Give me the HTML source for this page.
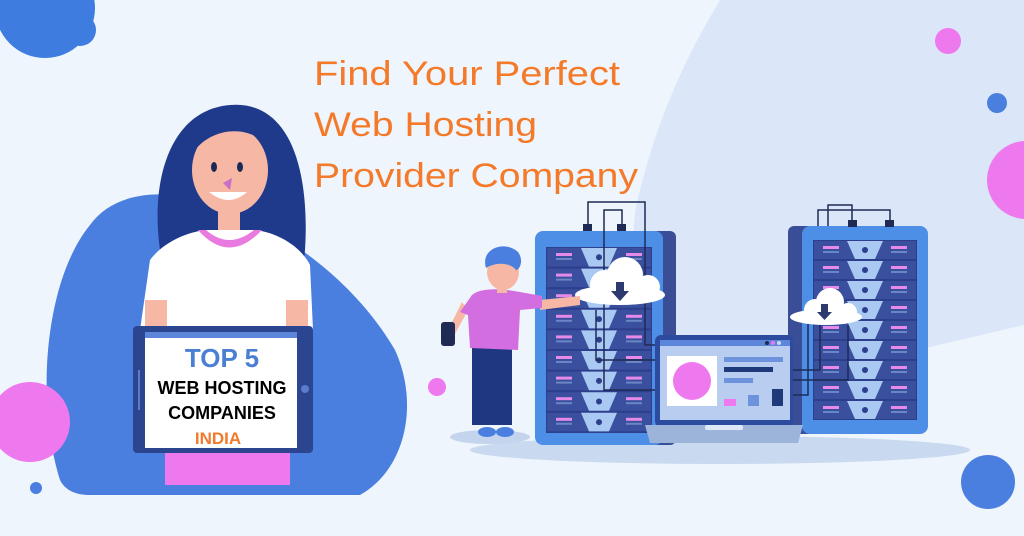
<!DOCTYPE html>
<html><head><meta charset="utf-8"><style>
html,body{margin:0;padding:0;background:#eef5fd;}
svg{display:block}
text{font-family:"Liberation Sans",Arial,sans-serif}
</style></head><body>
<svg id="s" width="1024" height="536" viewBox="0 0 1024 536" xmlns="http://www.w3.org/2000/svg">
<rect width="1024" height="536" fill="#eef5fd"/>
<path d="M720 0 L1024 0 L1024 325 C960 340 900 355 840 365 L700 375 C650 330 620 260 640 190 C660 110 690 50 720 0 Z" fill="#dbe7f8"/>
<circle cx="45" cy="8" r="50" fill="#3f7ce0"/>
<circle cx="80" cy="30" r="16" fill="#3f7ce0"/>
<circle cx="948" cy="41" r="13" fill="#ee78ee"/>
<circle cx="997" cy="103" r="10" fill="#4a7fdf"/>
<circle cx="1026" cy="180" r="39" fill="#ee78ee"/>
<circle cx="988" cy="482" r="27" fill="#4a7fdf"/>
<circle cx="437" cy="387" r="9" fill="#ee78ee"/>
<circle cx="36" cy="488" r="6" fill="#4a7fdf"/>
<path d="M60 480 C35 400 45 280 90 225 C115 190 170 185 230 210 C300 240 360 290 395 350 C420 405 405 470 360 495 L90 495 C75 495 65 490 60 480 Z" fill="#4a7fdf"/>
<circle cx="30" cy="422" r="40" fill="#ee78ee"/>
<ellipse cx="720" cy="450" rx="250" ry="14" fill="#c9d9ef"/>
<ellipse cx="490" cy="437" rx="40" ry="7" fill="#c3d4ec"/>
<text x="314" y="85" font-size="34" fill="#f47a2a" textLength="306" lengthAdjust="spacingAndGlyphs">Find Your Perfect</text>
<text x="314" y="136" font-size="34" fill="#f47a2a" textLength="223" lengthAdjust="spacingAndGlyphs">Web Hosting</text>
<text x="314" y="187" font-size="34" fill="#f47a2a" textLength="324" lengthAdjust="spacingAndGlyphs">Provider Company</text>

<path d="M160 250 C150 180 170 110 230 105 C290 100 310 170 305 250 L300 300 L160 300 Z" fill="#1f3a8a"/>
<ellipse cx="230" cy="170" rx="38" ry="44" fill="#f6b8a4"/>
<path d="M185 140 C200 105 260 105 278 150 L270 150 C255 125 215 125 195 150 Z" fill="#1f3a8a"/>
<rect x="218" y="205" width="22" height="30" fill="#f6b8a4"/>
<ellipse cx="214" cy="167" rx="3" ry="5" fill="#1a2a55"/>
<ellipse cx="240" cy="167" rx="3" ry="5" fill="#1a2a55"/>
<path d="M223 183 L232 178 L230 190 Z" fill="#c86fc8"/>
<path d="M209 192 Q229 208 247 192 Z" fill="#fff"/>
<path d="M150 260 C165 240 190 232 205 230 L255 230 C275 232 300 245 310 265 L313 330 L140 330 Z" fill="#fff"/>
<path d="M198 230 Q229 265 262 230 L254 230 Q229 250 206 230 Z" fill="#e87ae0"/>
<rect x="145" y="300" width="22" height="30" fill="#f6b8a4"/>
<rect x="286" y="300" width="22" height="30" fill="#f6b8a4"/>
<rect x="165" y="445" width="125" height="40" fill="#ee78ee"/>
<rect x="133" y="326" width="180" height="127" rx="4" fill="#2b4591"/>
<rect x="145" y="332" width="152" height="6" fill="#5b86d9"/>
<rect x="145" y="338" width="152" height="110" fill="#fff"/>
<rect x="138" y="370" width="2" height="40" fill="#5b7cc8"/>
<circle cx="305" cy="389" r="4" fill="#5b7cc8"/>
<text x="222" y="367" font-size="26" font-weight="bold" fill="#4a7fd4" text-anchor="middle">TOP 5</text>
<text x="222" y="394" font-size="18" font-weight="bold" fill="#000" text-anchor="middle">WEB HOSTING</text>
<text x="222" y="419" font-size="18" font-weight="bold" fill="#000" text-anchor="middle">COMPANIES</text>
<text x="218" y="444" font-size="17" font-weight="bold" fill="#f47a2a" text-anchor="middle">INDIA</text>

<rect x="650" y="231" width="26" height="214" rx="6" fill="#3a4e98"/>
<rect x="535" y="231" width="128" height="214" rx="8" fill="#4d8fe6"/>
<rect x="546" y="247" width="106" height="186" fill="#2c3e8c"/>
<rect x="788" y="226" width="26" height="208" rx="6" fill="#3a4e98"/>
<rect x="802" y="226" width="126" height="208" rx="8" fill="#4d8fe6"/>
<rect x="813" y="240" width="104" height="180" fill="#2c3e8c"/>
<g id="rows"></g>
<g stroke="#1f2a55" stroke-width="1.5" fill="none">
<path d="M588 226 V202 H645 V345 H655"/>
<path d="M622 226 V210 H604 V390 H655"/>
<path d="M596 310 V360 H655"/>
<path d="M818 226 V210 H890 V226"/>
<path d="M828 226 V205 H852 V226"/>
<path d="M820 310 V370 H793"/>
<path d="M848 325 V380 H793"/>
<path d="M808 320 V395 H793"/>
</g>
<rect x="583" y="224" width="9" height="7" fill="#1f2a55"/>
<rect x="617" y="224" width="9" height="7" fill="#1f2a55"/>
<rect x="848" y="220" width="9" height="7" fill="#1f2a55"/>
<rect x="885" y="220" width="9" height="7" fill="#1f2a55"/>
<g fill="#fff">
<ellipse cx="620" cy="295" rx="45" ry="10"/>
<circle cx="605" cy="285" r="15"/><circle cx="625" cy="275" r="18"/><circle cx="648" cy="287" r="12"/>
<ellipse cx="826" cy="317" rx="36" ry="8"/>
<circle cx="815" cy="310" r="11"/><circle cx="830" cy="302" r="14"/><circle cx="848" cy="312" r="9"/>
</g>
<path d="M616 282 h8 v9 h5 l-9 10 l-9 -10 h5 z" fill="#2c3a70"/>
<path d="M821 304 h7 v8 h4 l-7.5 8 l-7.5 -8 h4 z" fill="#2c3a70"/>
<rect x="655" y="335" width="138" height="92" rx="6" fill="#2d4b9e"/>
<rect x="660" y="340" width="130" height="6" fill="#5b86d9"/>
<circle cx="767" cy="343" r="2" fill="#1f2a55"/><circle cx="773" cy="343" r="2" fill="#ee78ee"/><circle cx="779" cy="343" r="2" fill="#c9d9f5"/>
<rect x="660" y="346" width="130" height="74" fill="#b9cdf0"/>
<rect x="667" y="356" width="50" height="50" fill="#fff"/>
<circle cx="692" cy="381" r="19" fill="#ee78ee"/>
<rect x="724" y="357" width="59" height="5" fill="#6d93dc"/>
<rect x="724" y="367" width="49" height="5" fill="#1f3a7a"/>
<rect x="724" y="378" width="29" height="5" fill="#6d93dc"/>
<rect x="724" y="399" width="12" height="7" fill="#ee78ee"/>
<rect x="748" y="395" width="11" height="11" fill="#6d93dc"/>
<rect x="772" y="389" width="11" height="17" fill="#1f3a7a"/>
<path d="M645 425 H803 L798 443 H650 Z" fill="#9cb3da"/>
<rect x="705" y="425" width="38" height="5" rx="2" fill="#dfe8f8"/>

<rect x="472" y="345" width="40" height="80" fill="#1f3680"/>
<ellipse cx="487" cy="432" rx="9" ry="5" fill="#4a7fdf"/>
<ellipse cx="505" cy="432" rx="9" ry="5" fill="#4a7fdf"/>
<path d="M540 300 L580 296 L580 305 L540 310 Z" fill="#f6b8a4"/>
<path d="M462 302 L448 330 L455 334 L468 310 Z" fill="#f6b8a4"/>
<path d="M472 295 C480 288 500 288 520 292 L542 296 L542 308 L520 310 L518 350 L470 348 L468 315 L460 312 Z" fill="#d26ee0"/>
<rect x="441" y="322" width="14" height="24" rx="3" fill="#1f2a55"/>
<ellipse cx="503" cy="272" rx="16" ry="18" fill="#f6b8a4"/>
<path d="M486 268 C480 248 505 240 518 252 C524 260 520 270 516 270 C510 262 495 262 486 268 Z" fill="#4a7fdf"/>
<rect x="497" y="287" width="10" height="6" fill="#f6b8a4"/>
</svg>
<script>
var g=document.getElementById('rows'),h='';
function rack(x0,y0,w,rh,n){
 for(var i=0;i<n;i++){var y=y0+i*rh,cx=x0+w/2;
  h+='<rect x="'+(x0+1)+'" y="'+(y+1)+'" width="'+(w-2)+'" height="'+(rh-2)+'" fill="#3a4f9e"/>';
  h+='<rect x="'+(x0+10)+'" y="'+(y+6)+'" width="16" height="3" fill="#e58ae8"/>';
  h+='<rect x="'+(x0+10)+'" y="'+(y+11)+'" width="16" height="2" fill="#6a86c4"/>';
  h+='<rect x="'+(x0+w-26)+'" y="'+(y+6)+'" width="16" height="3" fill="#e58ae8"/>';
  h+='<rect x="'+(x0+w-26)+'" y="'+(y+11)+'" width="16" height="2" fill="#6a86c4"/>';
  h+='<path d="M'+(cx-18)+' '+(y+1)+' H'+(cx+18)+' L'+(cx+10)+' '+(y+rh-1)+' H'+(cx-10)+' Z" fill="#a9c8f2"/>';
  h+='<circle cx="'+cx+'" cy="'+(y+rh/2)+'" r="3" fill="#2c3e8c"/>';
 }}
rack(546,247,106,20.6,9);rack(813,240,104,20,9);
g.innerHTML=h;
</script>
</body></html>
